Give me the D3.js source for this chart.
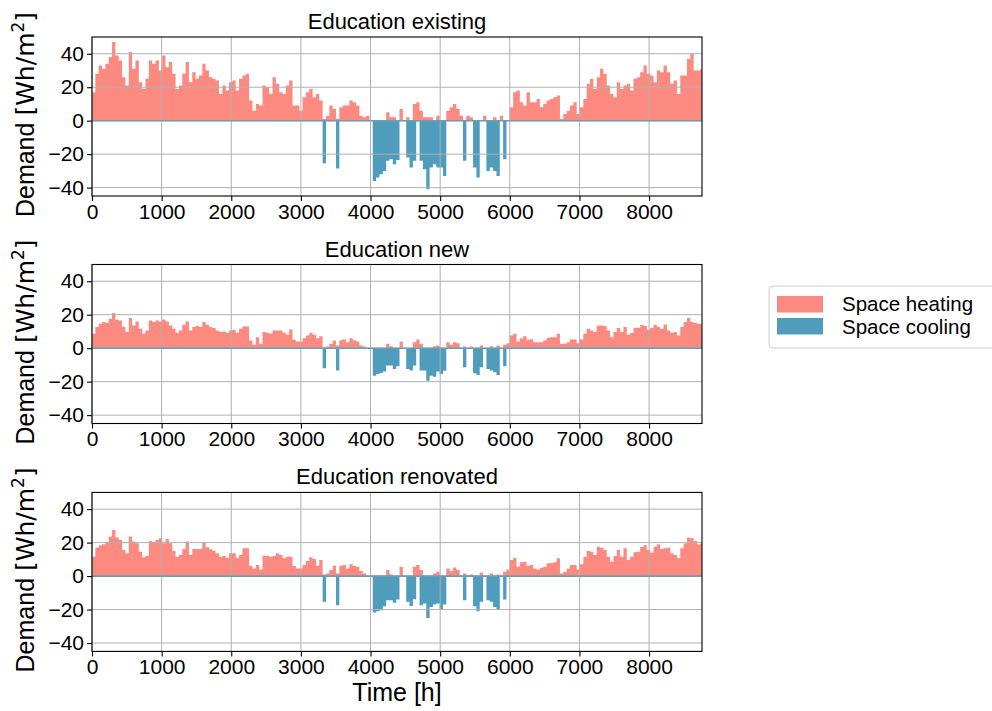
<!DOCTYPE html>
<html>
<head>
<meta charset="utf-8">
<script src="https://cdn.jsdelivr.net/npm/d3@7"></script>
<style>
  html, body { margin: 0; padding: 0; background: #ffffff; }
  svg { display: block; font-family: "Liberation Sans", Arial, Helvetica, sans-serif; }
</style>
</head>
<body>
<svg id="chart" width="992" height="711"></svg>
<script>
// Hourly demand aggregated into 48-hour blocks (peak of each block), Wh/m2.
const HOURS_PER_BIN = 48;
const YEAR_HOURS = 8760;

const xTicks = [0, 1000, 2000, 3000, 4000, 5000, 6000, 7000, 8000];
const yTicks = [-40, -20, 0, 20, 40];
const panelTitles = ["Education existing", "Education new", "Education renovated"];
const seriesNames = ["Space heating", "Space cooling"];

const heatExisting = [
  17, 28, 33, 31, 34, 38, 47, 39, 36, 26,
  21, 41, 31, 36, 23, 19, 25, 36, 34, 36,
  30, 39, 32, 35, 28, 19, 21, 28, 35, 23,
  29, 25, 27, 34, 30, 26, 25, 24, 16, 21,
  18, 23, 24, 18, 25, 27, 28, 12, 6, 10,
  9, 21, 20, 16, 26, 22, 17, 16, 21, 24,
  9, 9, 6, 14, 17, 19, 14, 16, 12, 1,
  3, 9, 7, 1, 8, 9, 9, 12, 11, 9,
  3, 2, 3, 0, 0, 0, 0, 0, 5, 2,
  2, 0, 7, 0, 2, 0, 10, 11, 6, 2,
  2, 2, 0, 3, 0, 0, 6, 8, 10, 7,
  3, 0, 3, 2, 0, 0, 0, 3, 0, 0,
  2, 0, 3, 0, 0, 8, 17, 18, 11, 9,
  17, 11, 11, 13, 8, 10, 12, 13, 14, 15,
  1, 4, 6, 9, 11, 4, 8, 13, 22, 25,
  19, 26, 31, 28, 21, 16, 14, 23, 19, 21,
  22, 18, 25, 26, 29, 33, 28, 27, 23, 30,
  29, 33, 29, 22, 24, 16, 27, 27, 37, 40,
  30, 30, 31
];
const coolExisting = [
  0, 0, 0, 0, 0, 0, 0, 0, 0, 0,
  0, 0, 0, 0, 0, 0, 0, 0, 0, 0,
  0, 0, 0, 0, 0, 0, 0, 0, 0, 0,
  0, 0, 0, 0, 0, 0, 0, 0, 0, 0,
  0, 0, 0, 0, 0, 0, 0, 0, 0, 0,
  0, 0, 0, 0, 0, 0, 0, 0, 0, 0,
  0, 0, 0, 0, 0, 0, 0, 0, 0, -25.5,
  0, 0, 0, -28.5, 0, 0, 0, 0, 0, 0,
  0, 0, 0, 0, -36, -34, -32, -30, -24, -23,
  -26, -23.5, 0, 0, -22, -28, -24, 0, -24, -29,
  -41, -28, -26, -28, -28, -33, 0, 0, 0, 0,
  0, -24, 0, 0, -28, -34, 0, 0, -30, -28,
  -30, -33, 0, -23, 0, 0, 0, 0, 0, 0,
  0, 0, 0, 0, 0, 0, 0, 0, 0, 0,
  0, 0, 0, 0, 0, 0, 0, 0, 0, 0,
  0, 0, 0, 0, 0, 0, 0, 0, 0, 0,
  0, 0, 0, 0, 0, 0, 0, 0, 0, 0,
  0, 0, 0, 0, 0, 0, 0, 0, 0, 0,
  0, 0, 0
];

const heatNew = [
  8.6, 12.6, 14.6, 15.6, 15.2, 17.6, 21, 17, 16.6, 12.6,
  9.6, 18, 13.6, 16, 11.6, 8.6, 10.6, 16.6, 15.6, 16.6,
  16, 17.2, 16, 13.6, 11.6, 9.2, 10.6, 14, 16, 10.6,
  12.6, 13.2, 12.6, 15.6, 14, 12.6, 12, 10.6, 9.6, 10,
  9, 10.6, 11, 9.2, 11.6, 13, 13, 4.6, 2, 6.6,
  2.6, 9.6, 9.2, 8.8, 10.6, 10.6, 10.6, 9.2, 8, 11.2,
  5, 4, 4, 6, 7.6, 9, 8, 6, 7.2, 0.6,
  1, 2.6, 4.6, 1.6, 4.8, 5.2, 3.6, 6, 4.8, 4,
  1.6, 1, 0, 0, 0, 0, 0, 0, 2.6, 1.2,
  0, 0, 4, 0, 0, 0, 3.6, 5.2, 2.6, 0,
  0, 0, 1.2, 1.6, 0, 0, 3.6, 2, 3.6, 3,
  0, 1, 0, 1, 0, 0, 1.6, 0, 0, 1.2,
  0, 1.6, 0, 2, 3, 7.6, 8.6, 4, 6, 7.2,
  5, 5.4, 3.6, 3.6, 3.6, 4.6, 6.2, 6.6, 6.6, 8.6,
  2.6, 2.6, 3.6, 5.2, 5.2, 3, 5.2, 8.6, 11.6, 10.6,
  9.6, 13.6, 13.6, 13.2, 10.6, 6.6, 9.6, 12, 9.6, 12.6,
  8, 9.2, 12.2, 12.2, 14, 13.2, 11, 12, 14, 12.6,
  11.6, 14.2, 10.6, 9.2, 9.6, 7.6, 12.6, 15.6, 18, 15.6,
  15, 14.4, 14.6
];
const coolNew = [
  0, 0, 0, 0, 0, 0, 0, 0, 0, 0,
  0, 0, 0, 0, 0, 0, 0, 0, 0, 0,
  0, 0, 0, 0, 0, 0, 0, 0, 0, 0,
  0, 0, 0, 0, 0, 0, 0, 0, 0, 0,
  0, 0, 0, 0, 0, 0, 0, 0, 0, 0,
  0, 0, 0, 0, 0, 0, 0, 0, 0, 0,
  0, 0, 0, 0, 0, 0, 0, 0, 0, -12,
  0, 0, 0, -13.4, 0, 0, 0, 0, 0, 0,
  0, 0, 0, 0, -16.4, -15.4, -14.8, -14, -10.4, -10.4,
  -12.4, -10.8, 0, 0, -12.4, -13.4, -10.4, 0, -13.4, -13.4,
  -19.4, -16.4, -17, -14, -15.4, -13.5, 0, 0, 0, 0,
  0, -11.4, 0, 0, -15, -16, -11.4, 0, -12.4, -13.4,
  -14.4, -16, 0, -10.8, 0, 0, 0, 0, 0, 0,
  0, 0, 0, 0, 0, 0, 0, 0, 0, 0,
  0, 0, 0, 0, 0, 0, 0, 0, 0, 0,
  0, 0, 0, 0, 0, 0, 0, 0, 0, 0,
  0, 0, 0, 0, 0, 0, 0, 0, 0, 0,
  0, 0, 0, 0, 0, 0, 0, 0, 0, 0,
  0, 0, 0
];

const heatRenovated = [
  11.6, 17, 18.2, 19, 20, 23.6, 27.6, 23, 21.6, 15.6,
  13.6, 23.6, 20.6, 19.6, 14.6, 11.2, 12.2, 21, 20.2, 21.6,
  22.6, 19.6, 22.2, 19.6, 15, 11.6, 12.6, 16.2, 20.6, 12.6,
  16.2, 16.2, 16.2, 20.2, 17.2, 16, 15.2, 13.6, 11.6, 12,
  11, 13.6, 13.6, 11, 12.6, 16.6, 16.6, 6.2, 4.6, 6.6,
  4, 12.2, 12, 11.6, 12, 13.6, 12.6, 10.6, 11.6, 11.6,
  6, 4.6, 4.6, 6.6, 9, 11.2, 10.2, 6.2, 9.6, 1,
  1.6, 3.6, 6.2, 1.6, 6.2, 6.6, 4.6, 7, 6, 5.6,
  3, 1.6, 0, 0, 0, 0, 0, 0, 3.6, 1,
  0, 0, 5.6, 0, 0, 0, 5.6, 6.6, 3.6, 0,
  0, 0, 1.6, 2.6, 0, 0, 4.6, 3, 5.2, 3.6,
  0, 1.6, 0, 1, 0, 0, 2.2, 0, 0, 1.6,
  0, 1, 0, 2.6, 4, 9.6, 11, 5.6, 8.2, 8.6,
  6.2, 6.6, 4.6, 4, 5, 5.6, 7.6, 7.6, 8.2, 10.6,
  1.6, 2.6, 4.6, 6.6, 6.6, 4, 7, 11.6, 15, 14.6,
  12.6, 17.6, 17, 15.6, 11.6, 8.6, 12, 15.6, 11.6, 16.6,
  9.6, 11.6, 14.2, 14.6, 17.4, 18.4, 15.6, 14, 17.6, 19,
  16.2, 16.6, 17, 13.6, 12.6, 10.6, 16.6, 19.4, 23, 22.6,
  21, 19, 19.4
];
const coolRenovated = [
  0, 0, 0, 0, 0, 0, 0, 0, 0, 0,
  0, 0, 0, 0, 0, 0, 0, 0, 0, 0,
  0, 0, 0, 0, 0, 0, 0, 0, 0, 0,
  0, 0, 0, 0, 0, 0, 0, 0, 0, 0,
  0, 0, 0, 0, 0, 0, 0, 0, 0, 0,
  0, 0, 0, 0, 0, 0, 0, 0, 0, 0,
  0, 0, 0, 0, 0, 0, 0, 0, 0, -15.4,
  0, 0, 0, -17.4, 0, 0, 0, 0, 0, 0,
  0, 0, 0, 0, -21.8, -21, -20.4, -18, -14.4, -14.4,
  -16, -14, 0, 0, -15.4, -17.8, -13.8, 0, -17.4, -16.4,
  -25, -18.4, -17, -16.4, -19.8, -17, 0, 0, 0, 0,
  0, -14.4, 0, 0, -18, -21, -15.4, 0, -14.4, -15.4,
  -18.4, -19.8, 0, -14, 0, 0, 0, 0, 0, 0,
  0, 0, 0, 0, 0, 0, 0, 0, 0, 0,
  0, 0, 0, 0, 0, 0, 0, 0, 0, 0,
  0, 0, 0, 0, 0, 0, 0, 0, 0, 0,
  0, 0, 0, 0, 0, 0, 0, 0, 0, 0,
  0, 0, 0, 0, 0, 0, 0, 0, 0, 0,
  0, 0, 0
];

const panels = [
  { title: panelTitles[0], heat: heatExisting, cool: coolExisting },
  { title: panelTitles[1], heat: heatNew, cool: coolNew },
  { title: panelTitles[2], heat: heatRenovated, cool: coolRenovated }
];

// ---- layout & style ----
const HEAT_COLOR = "#fc8a80";
const COOL_COLOR = "#509cbd";
const GRID_COLOR = "#b0b0b0";
const plotLeft = 92, plotRight = 702;
const panelTops = [37, 264.5, 492.4];
const panelHeight = 159;
const tickFont = 21, titleFont = 22, labelFont = 25, legendFont = 20.5;

const svg = d3.select("#chart");

const x = d3.scaleLinear().domain([0, YEAR_HOURS]).range([plotLeft, plotRight]);

function toSteps(values) {
  const pts = values.map((v, i) => ({ h: i * HOURS_PER_BIN, v }));
  pts.push({ h: YEAR_HOURS, v: values[values.length - 1] });
  return pts;
}

panels.forEach((p, idx) => {
  const top = panelTops[idx];
  const y = d3.scaleLinear().domain([-45, 50]).range([top + panelHeight, top]);
  const g = svg.append("g");

  const clipId = "clip" + idx;
  svg.append("clipPath").attr("id", clipId)
    .append("rect")
    .attr("x", plotLeft).attr("y", top)
    .attr("width", plotRight - plotLeft).attr("height", panelHeight);

  const area = d3.area()
    .x(d => x(d.h))
    .y0(y(0))
    .y1(d => y(d.v))
    .curve(d3.curveStepAfter);

  const marks = g.append("g").attr("clip-path", `url(#${clipId})`);
  marks.append("path").datum(toSteps(p.heat))
    .attr("d", area).attr("fill", HEAT_COLOR);
  marks.append("path").datum(toSteps(p.cool))
    .attr("d", area).attr("fill", COOL_COLOR);

  // grid on top of the filled areas
  const grid = g.append("g").attr("stroke", GRID_COLOR).attr("stroke-width", 1);
  grid.selectAll(".gx").data(xTicks).join("line")
    .attr("x1", d => x(d)).attr("x2", d => x(d))
    .attr("y1", top).attr("y2", top + panelHeight);
  grid.selectAll(".gy").data(yTicks).join("line")
    .attr("x1", plotLeft).attr("x2", plotRight)
    .attr("y1", d => y(d)).attr("y2", d => y(d));

  // zero baseline
  g.append("line")
    .attr("x1", plotLeft).attr("x2", plotRight)
    .attr("y1", y(0)).attr("y2", y(0))
    .attr("stroke", "#6d9db5").attr("stroke-width", 1.6);

  // axes
  const xAxis = d3.axisBottom(x).tickValues(xTicks).tickSize(5).tickSizeOuter(0).tickPadding(3)
    .tickFormat(d3.format("d"));
  const yAxis = d3.axisLeft(y).tickValues(yTicks).tickSize(5).tickSizeOuter(0).tickPadding(3)
    .tickFormat(d3.format("d"));

  const gx = g.append("g").attr("transform", `translate(0,${top + panelHeight})`).call(xAxis);
  const gy = g.append("g").attr("transform", `translate(${plotLeft},0)`).call(yAxis);
  [gx, gy].forEach(a => {
    a.select(".domain").remove();
    a.selectAll("line").attr("stroke", "#000").attr("stroke-width", 1.1);
    a.selectAll("text").attr("fill", "#000").style("font-size", tickFont + "px");
  });

  // frame
  g.append("rect")
    .attr("x", plotLeft).attr("y", top)
    .attr("width", plotRight - plotLeft).attr("height", panelHeight)
    .attr("fill", "none").attr("stroke", "#000").attr("stroke-width", 1.1);

  // title
  g.append("text")
    .attr("x", (plotLeft + plotRight) / 2).attr("y", top - 8)
    .attr("text-anchor", "middle").style("font-size", titleFont + "px")
    .text(p.title);

  // y label: unit part set in the math font
  const yl = g.append("text")
    .attr("transform", `translate(34,${top + panelHeight / 2 - 2}) rotate(-90)`)
    .attr("text-anchor", "middle").style("font-size", labelFont + "px");
  yl.append("tspan").text("Demand ");
  const unit = yl.append("tspan").style("font-family", "'DejaVu Sans', sans-serif");
  unit.append("tspan").text("[Wh/m");
  unit.append("tspan").attr("dy", -10).style("font-size", "17px").text("2");
  unit.append("tspan").attr("dy", 10).text("]");
});

// x label
svg.append("text")
  .attr("x", (plotLeft + plotRight) / 2).attr("y", 701)
  .attr("text-anchor", "middle").style("font-size", labelFont + "px")
  .text("Time [h]");

// legend
const legend = svg.append("g");
legend.append("rect")
  .attr("x", 769).attr("y", 286).attr("width", 240).attr("height", 62)
  .attr("rx", 4).attr("fill", "#fff").attr("stroke", "#cccccc").attr("stroke-width", 1);
const legendItems = [
  { name: seriesNames[0], color: HEAT_COLOR },
  { name: seriesNames[1], color: COOL_COLOR }
];
legendItems.forEach((d, i) => {
  legend.append("rect")
    .attr("x", 777).attr("y", 296 + i * 22).attr("width", 46).attr("height", 16.5)
    .attr("fill", d.color);
  legend.append("text")
    .attr("x", 842).attr("y", 311 + i * 23)
    .style("font-size", legendFont + "px")
    .text(d.name);
});
</script>
</body>
</html>
